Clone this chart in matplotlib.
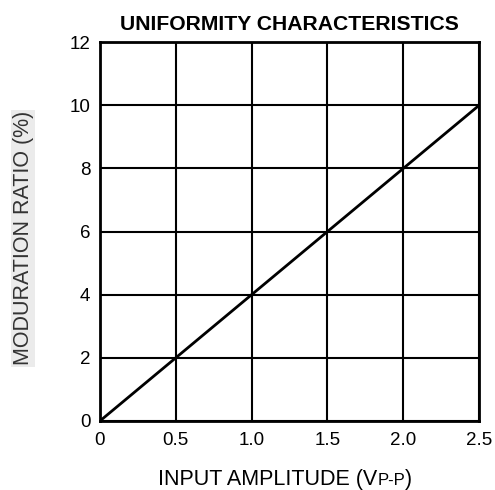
import matplotlib
matplotlib.use("Agg")
import matplotlib.pyplot as plt

plt.rcParams['font.family'] = ['Liberation Sans', 'DejaVu Sans']

# data
amplitude = [0.0, 2.5]
ratio = [0.0, 10.0]
x_ticks = [0, 0.5, 1.0, 1.5, 2.0, 2.5]
x_labels = ['0', '0.5', '1.0', '1.5', '2.0', '2.5']
y_ticks = [0, 2, 4, 6, 8, 10, 12]

fig = plt.figure(figsize=(4.95, 4.9), dpi=100)
ax = fig.add_axes([0.202, 0.141, 0.766, 0.773])

ax.plot(amplitude, ratio, color='black', lw=2)

ax.set_xlim(0, 2.5)
ax.set_ylim(0, 12)
ax.set_xticks(x_ticks)
ax.set_xticklabels(x_labels)
ax.set_yticks(y_ticks)
ax.grid(True, color='black', lw=1.5)
ax.tick_params(length=0, labelsize=13.5, pad=8)
ax.tick_params(axis='y', pad=7)
for s in ax.spines.values():
    s.set_linewidth(2)

ax.set_title('UNIFORMITY CHARACTERISTICS', fontsize=15.2, fontweight='bold', pad=9)

fig.text(0.047, 0.514, 'MODURATION RATIO (%)', rotation=90, ha='center', va='center',
         fontsize=15.5, color='#333333',
         bbox=dict(facecolor='#ebebeb', edgecolor='none', pad=1))

# x label with smaller P-P
fig.canvas.draw()
r = fig.canvas.get_renderer()
y_lab = 0.011
t1 = fig.text(0, y_lab, 'INPUT AMPLITUDE (V', fontsize=15.5, va='baseline')
t2 = fig.text(0, y_lab, 'P-P', fontsize=12, va='baseline')
t3 = fig.text(0, y_lab, ')', fontsize=15.5, va='baseline')
w1 = t1.get_window_extent(r).width
w2 = t2.get_window_extent(r).width
w3 = t3.get_window_extent(r).width
total = w1 + w2 + w3
x0 = 285 - total / 2
W = fig.bbox.width
t1.set_x(x0 / W)
t2.set_x((x0 + w1) / W)
t3.set_x((x0 + w1 + w2) / W)

fig.savefig('out.png', dpi=100)
